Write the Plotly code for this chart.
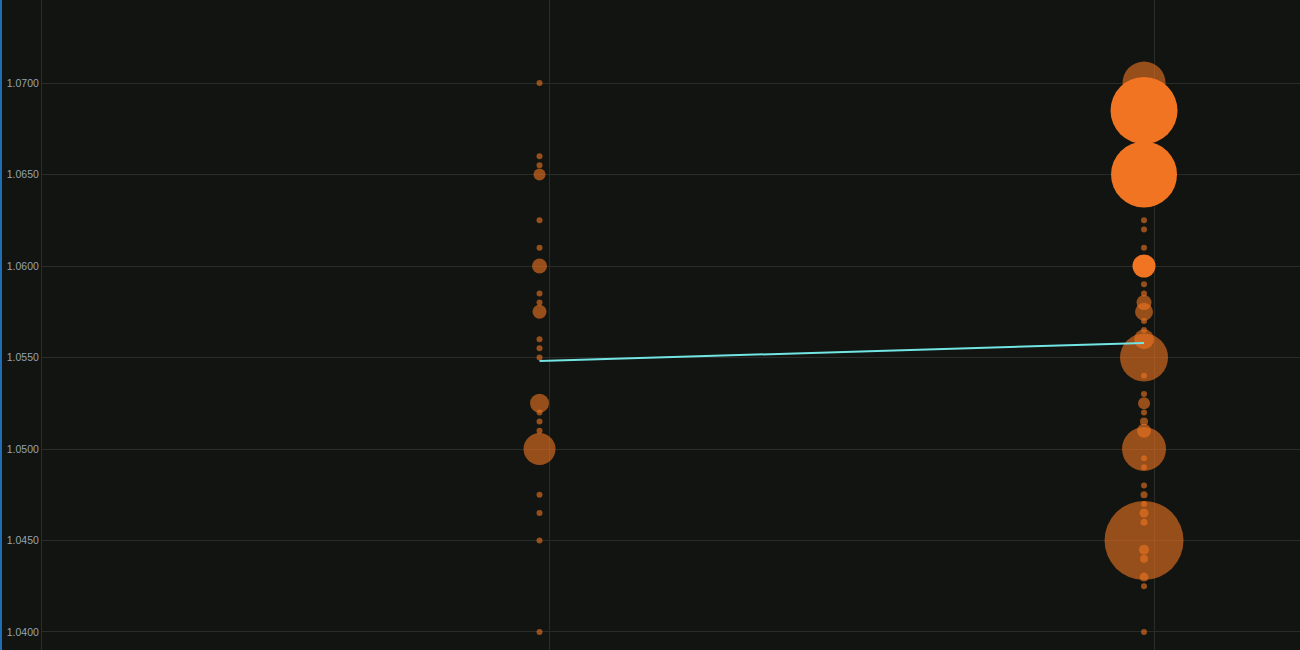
import plotly.graph_objects as go

# two time buckets on the x axis (0 = earlier, 1 = later)
bucket_a = 0
bucket_b = 1

# earlier bucket: price levels and resting volume
prices_a = [1.0700, 1.0660, 1.0655, 1.0650, 1.0625, 1.0610, 1.0600, 1.0585, 1.0580, 1.0575,
            1.0560, 1.0555, 1.0550, 1.0525, 1.0520, 1.0515, 1.0510, 1.0500, 1.0475, 1.0465,
            1.0450, 1.0400]
volume_a = [16, 16, 16, 144, 16, 16, 225, 16, 16, 196,
            16, 16, 16, 361, 16, 16, 16, 1024, 36, 16,
            16, 16]

# later bucket: price levels and resting volume
prices_b = [1.0700, 1.0625, 1.0620, 1.0610, 1.0590, 1.0585, 1.0580, 1.0575, 1.0570, 1.0565,
            1.0560, 1.0550, 1.0540, 1.0530, 1.0525, 1.0520, 1.0515, 1.0510, 1.0500, 1.0495,
            1.0490, 1.0480, 1.0475, 1.0470, 1.0465, 1.0460, 1.0450, 1.0445, 1.0440, 1.0430,
            1.0425, 1.0400]
volume_b = [1849, 16, 16, 16, 36, 25, 225, 324, 16, 16,
            400, 2304, 16, 16, 144, 16, 64, 196, 1936, 36,
            16, 16, 49, 16, 81, 49, 6241, 100, 64, 81,
            36, 16]

# later bucket: large new orders (highlighted)
prices_new = [1.0685, 1.0650, 1.0600]
volume_new = [4489, 4356, 529]

# average price per bucket
avg_price = [1.05481, 1.05579]

orange = "#f07422"
bg = "#111410"
grid = "#2a2c29"

fig = go.Figure()

fig.add_trace(go.Scatter(
    x=[bucket_a] * len(prices_a), y=prices_a, mode="markers",
    marker=dict(size=volume_a, sizemode="area", sizeref=2, sizemin=3,
                color=orange, opacity=0.6, line=dict(width=0)),
    hoverinfo="y"))

fig.add_trace(go.Scatter(
    x=[bucket_b] * len(prices_b), y=prices_b, mode="markers",
    marker=dict(size=volume_b, sizemode="area", sizeref=2, sizemin=3,
                color=orange, opacity=0.6, line=dict(width=0)),
    hoverinfo="y"))

fig.add_trace(go.Scatter(
    x=[bucket_b] * len(prices_new), y=prices_new, mode="markers",
    marker=dict(size=volume_new, sizemode="area", sizeref=2, sizemin=3,
                color=orange, opacity=1, line=dict(width=0)),
    hoverinfo="y"))

fig.add_trace(go.Scatter(
    x=[bucket_a, bucket_b], y=avg_price, mode="lines",
    line=dict(color="#72e6e4", width=2), hoverinfo="y"))

# thin blue bar along the left edge of the panel
fig.add_shape(type="rect", xref="paper", yref="paper",
              x0=-42 / 1258, x1=-40 / 1258, y0=0, y1=1,
              fillcolor="#1f6db4", line=dict(width=0), layer="above")

fig.update_layout(
    width=1300, height=650,
    margin=dict(l=42, r=0, t=0, b=0),
    paper_bgcolor=bg, plot_bgcolor=bg,
    showlegend=False,
    font=dict(family="Liberation Sans, Arial", size=10.5, color="#95a4b4"),
    xaxis=dict(range=[-0.823, 1.258], tickvals=[0.0165, 1.0165], showticklabels=False,
               showgrid=True, gridcolor=grid, gridwidth=1, zeroline=False, ticks=""),
    yaxis=dict(range=[1.039016, 1.074536], tick0=1.04, dtick=0.005, tickformat=".4f",
               showgrid=True, gridcolor=grid, gridwidth=1, zeroline=False,
               showline=True, linecolor=grid, linewidth=1, ticks=""),
)

fig.write_html("out.html",
               config={"displayModeBar": False},
               post_script="document.body.style.margin='0';"
                           "document.body.style.background='#111410';"
                           "document.body.style.overflow='hidden';")
